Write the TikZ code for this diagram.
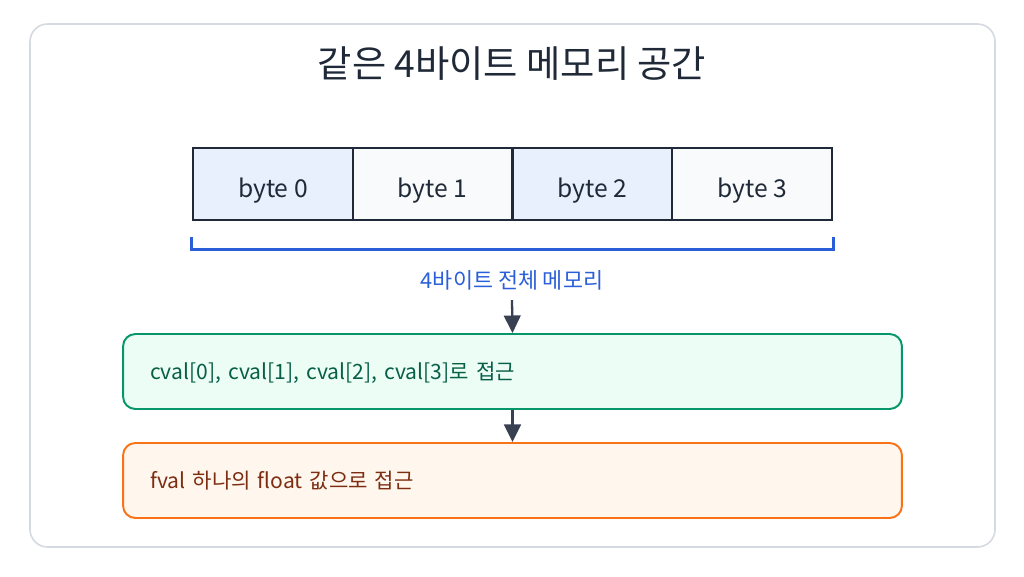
\documentclass[tikz,border=0pt]{standalone}
\usepackage{fontspec}
\setmainfont{Noto Sans CJK KR}
\usetikzlibrary{arrows.meta, positioning}
\definecolor{framegray}{HTML}{D5D9E0}
\definecolor{inkdark}{HTML}{1F2937}
\definecolor{cellblue}{HTML}{E8F0FE}
\definecolor{cellgray}{HTML}{F8FAFC}
\definecolor{spanblue}{HTML}{2B5FD9}
\definecolor{arrowgray}{HTML}{374151}
\definecolor{greenfill}{HTML}{ECFDF5}
\definecolor{greenedge}{HTML}{059669}
\definecolor{greentext}{HTML}{065F46}
\definecolor{orangefill}{HTML}{FFF7ED}
\definecolor{orangeedge}{HTML}{F97316}
\definecolor{orangetext}{HTML}{7C2D12}

\begin{document}
\begin{tikzpicture}[x=0.02cm, y=-0.02cm,
    cellbox/.style={draw=inkdark, line width=1.3pt, minimum width=3.195cm, minimum height=1.44cm, inner sep=0pt, text height=1.5em, text depth=0pt, font=\fontsize{14}{16}\selectfont, text=inkdark},
    viewbox/.style={rounded corners=7pt, line width=1.1pt, minimum height=1.5cm, text width=14.5cm, inner xsep=0.54cm, align=left, text height=0.95em, text depth=0pt, font=\fontsize{12}{14}\selectfont},
    flowarrow/.style={draw=arrowgray, line width=1.3pt, -{Triangle[length=10pt, width=9.5pt]}}]
    \useasboundingbox (0,0) rectangle (1024,576);
    % outer card
    \draw[framegray, line width=0.9pt, fill=white, rounded corners=10pt] (30,24) rectangle (995,547);
    \node[text=inkdark, font=\fontsize{21.2}{25}\selectfont] (title) at (512,64) {같은 4바이트 메모리 공간};
    % the four bytes
    \foreach \i/\fillc in {0/cellblue,1/cellgray,2/cellblue,3/cellgray} {
        \node[cellbox, fill=\fillc] (byte\i) at (272.9+159.75*\i,184) {byte \i};
    }
    % span of all bytes
    \draw[spanblue, line width=1.6pt] (byte0.south west) ++(0,16) -- ++(0,12) -| ([yshift=-0.32cm]byte3.south east);
    \node[text=spanblue, font=\fontsize{12.4}{14}\selectfont] (memlabel) at (512,280) {4바이트 전체 메모리};
    % two views
    \node[viewbox, draw=greenedge, fill=greenfill, text=greentext] (cview) at (512.5,371.5) {cval[0], cval[1], cval[2], cval[3]로 접근};
    \node[viewbox, draw=orangeedge, fill=orangefill, text=orangetext] (fview) at (512.5,480.5) {fval 하나의 float 값으로 접근};
    \draw[flowarrow] (memlabel.south) ++(0,4) -- (cview.north);
    \draw[flowarrow] (cview) -- (fview);
\end{tikzpicture}
\end{document}
